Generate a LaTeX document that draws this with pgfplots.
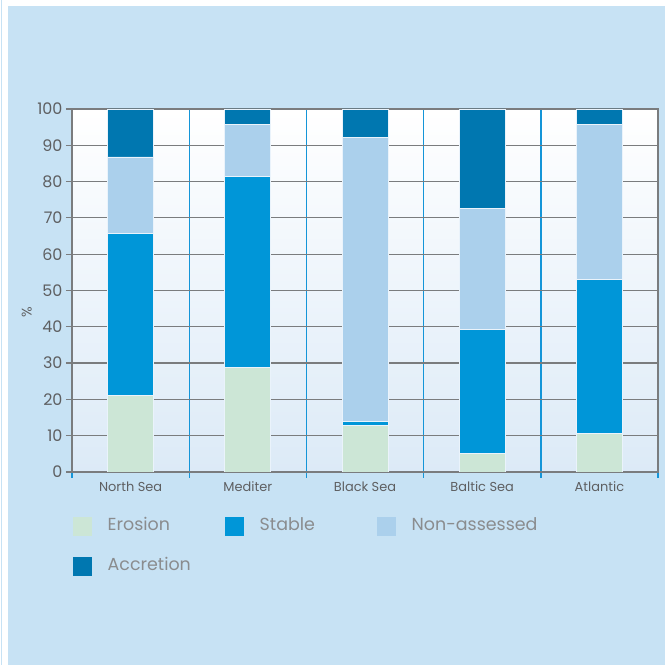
\documentclass[border=0pt]{standalone}
\usepackage{pgfplots}
\pgfplotsset{compat=1.18}
\usepackage{fontspec}
\setmainfont{Poppins}
\definecolor{panel}{HTML}{C7E2F4}
\definecolor{ero}{HTML}{CCE6D6}
\definecolor{stab}{HTML}{0096D8}
\definecolor{nonas}{HTML}{ABD0EC}
\definecolor{accr}{HTML}{0077B0}
\definecolor{sep}{HTML}{1495D8}
\definecolor{gridg}{HTML}{7A7C7E}
\definecolor{txt}{HTML}{5E5F61}
\definecolor{lgtxt}{HTML}{8A8C8E}
\definecolor{bgbot}{HTML}{DCEAF7}
\definecolor{barline}{HTML}{EAF3FB}
\begin{document}
\begin{tikzpicture}[x=1bp,y=1bp]
\useasboundingbox (0,0) rectangle (671,665);
\fill[white] (0,0) rectangle (671,665);
\fill[panel] (8,0) rectangle (665,659);
\draw[panel, line width=1bp] (1.5,0) -- (1.5,665);
\begin{axis}[
  at={(72bp,193bp)}, anchor=south west,
  scale only axis, width=586bp, height=363bp,
  xmin=0, xmax=5, ymin=0, ymax=100,
  ybar stacked, bar width=0.392,
  xtick={0,1,2,3,4,5}, x tick label as interval,
  xticklabels={North Sea,Mediter,Black Sea,Baltic Sea,Atlantic},
  ytick={0,10,...,100},
  xtick pos=bottom, ytick pos=left,
  xmajorgrids, ymajorgrids,
  x grid style={sep, line width=1.4bp},
  y grid style={gridg, line width=1.2bp},
  axis line style={gridg, line width=1.2bp},
  tick align=outside, major tick length=6bp,
  x tick style={sep, line width=1.4bp},
  y tick style={gridg, line width=1.2bp},
  /pgf/number format/assume math mode=true,
  axis background/.style={top color=white, bottom color=bgbot},
  xticklabel style={font=\fontsize{13}{15}\selectfont, text=txt},
  yticklabel style={font=\fontsize{16}{18}\selectfont, text=txt},
  ylabel={\%},
  ylabel style={at={(axis description cs:-0.077,0.44)}, anchor=center, font=\fontsize{14}{16}\selectfont, text=txt},
  legend columns=3,
  legend style={at={(axis description cs:0,0)}, anchor=north west, xshift=0.5bp, yshift=-44.5bp,
    draw=none, fill=none, inner sep=0pt, row sep=21bp,
    font=\fontsize{17.5}{20}\selectfont, text=lgtxt,
    cells={anchor=west}, nodes={inner sep=0pt, text height=13bp, text depth=4bp}},
  sq/.style={legend image code/.code={\fill[##1,draw=none] (0bp,-9.5bp) rectangle (19bp,9.5bp);}},
]
\addplot[fill=ero, draw=barline, line width=0.8bp, sq] coordinates {(0.5,21.1) (1.5,28.8) (2.5,12.7) (3.5,5.0) (4.5,10.7)};
\addplot[fill=stab, draw=barline, line width=0.8bp, sq] coordinates {(0.5,44.6) (1.5,52.5) (2.5,1.2) (3.5,34.3) (4.5,42.3)};
\addplot[fill=nonas, draw=barline, line width=0.8bp, sq] coordinates {(0.5,21.1) (1.5,14.4) (2.5,78.3) (3.5,33.3) (4.5,42.7)};
\addplot[fill=accr, draw=barline, line width=0.8bp, sq] coordinates {(0.5,13.2) (1.5,4.3) (2.5,7.8) (3.5,27.4) (4.5,4.3)};
\legend{\hspace*{16bp}\makebox[117bp][l]{Erosion},\hspace*{16bp}\makebox[117bp][l]{Stable},\hspace*{16bp}\makebox[117bp][l]{Non-assessed},\hspace*{16bp}\makebox[117bp][l]{Accretion}}
\end{axis}
\end{tikzpicture}
\end{document}
